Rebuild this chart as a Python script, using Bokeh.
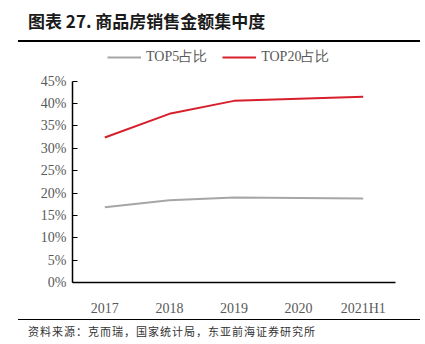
from bokeh.plotting import figure
from bokeh.layouts import column
from bokeh.models import Div, Legend, LegendItem, NumeralTickFormatter, FixedTicker
from bokeh.embed import file_html
from bokeh.resources import INLINE

years = ["2017", "2018", "2019", "2020", "2021H1"]
top5 = [0.168, 0.184, 0.190, 0.189, 0.188]
top20 = [0.324, 0.377, 0.406, 0.411, 0.415]
y_ticks = [0, 0.05, 0.10, 0.15, 0.20, 0.25, 0.30, 0.35, 0.40, 0.45]
title_text = "图表 27. 商品房销售金额集中度"
source_text = "资料来源：克而瑞，国家统计局，东亚前海证券研究所"

W = 425
TOP_H, FIG_H, BOT_H = 42, 277, 25

title_div = Div(
    text=('<div style="box-sizing:border-box;width:402px;height:42px;margin-left:18px;'
          'padding-left:10px;padding-top:11px;border-bottom:2px solid #000;'
          'font-family:\'Noto Sans CJK SC\';font-weight:bold;font-size:17px;line-height:20px;'
          'letter-spacing:0px;color:#1a1a1a;white-space:nowrap;">' + title_text + '</div>'),
    width=W, height=TOP_H, margin=0)

source_div = Div(
    text=('<div style="box-sizing:border-box;width:402px;height:25px;margin-left:18px;'
          'padding-left:10px;padding-top:4px;border-top:1.5px solid #000;'
          'font-family:\'Noto Sans CJK SC\';font-size:11px;line-height:14px;'
          'letter-spacing:1px;color:#333333;white-space:nowrap;">' + source_text + '</div>'),
    width=W, height=BOT_H, margin=0)

p = figure(width=W, height=FIG_H, x_range=years, y_range=(0, 0.5253),
           output_backend="svg", toolbar_location=None,
           min_border_left=72, min_border_right=30, min_border_top=5, min_border_bottom=37)
p.outline_line_color = None
p.xgrid.visible = False
p.ygrid.visible = False
p.x_range.range_padding = 0

r5 = p.line(years, top5, line_color="#a6a6a6", line_width=2)
r20 = p.line(years, top20, line_color="#d7202b", line_width=2)

p.yaxis.ticker = FixedTicker(ticks=y_ticks)
p.yaxis.formatter = NumeralTickFormatter(format="0%")
p.yaxis.bounds = (0, 0.45)
for ax in (p.xaxis[0], p.yaxis[0]):
    ax.axis_line_color = "black"
    ax.axis_line_width = 1.5
    ax.major_label_text_font = "Liberation Serif"
    ax.major_label_text_font_size = "14px"
    ax.major_label_text_color = "#595959"
    ax.minor_tick_line_color = None
p.yaxis.major_tick_in = 5
p.yaxis.major_tick_out = 0
p.yaxis.major_tick_line_color = "black"
p.yaxis.major_label_standoff = 6
p.xaxis.major_tick_line_color = None
p.xaxis.major_label_standoff = 12

legend = Legend(items=[LegendItem(label="TOP5占比", renderers=[r5]),
                       LegendItem(label="TOP20占比", renderers=[r20])],
                orientation="horizontal", location=(35, 216),
                label_text_font="Liberation Serif", label_text_font_size="14px",
                label_text_color="#595959", glyph_width=34, glyph_height=14,
                label_height=14, spacing=15,
                background_fill_alpha=0, border_line_color=None, padding=0, margin=0)
p.add_layout(legend, "center")

layout = column(title_div, p, source_div, spacing=0)
open("out.html", "w").write(file_html(layout, INLINE))
